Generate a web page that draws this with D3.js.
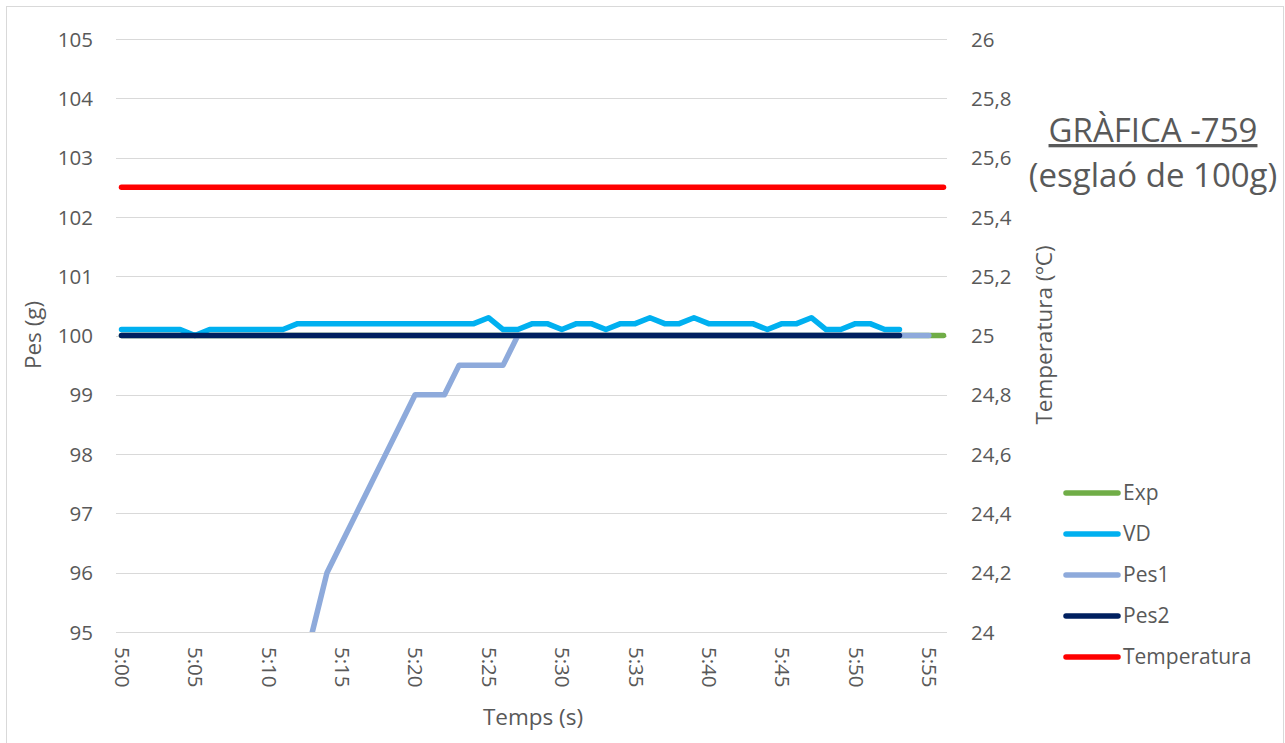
<!DOCTYPE html>
<html>
<head>
<meta charset="utf-8">
<script src="https://cdn.jsdelivr.net/npm/d3@7"></script>
<style>
  html, body { margin: 0; padding: 0; background: #fff; }
  svg { display: block; font-family: "Open Sans", sans-serif; }
</style>
</head>
<body>
<svg id="chart" width="1285" height="743"></svg>
<script>
// Time categories, one per second
const times = d3.range(0, 57).map(s => "5:" + String(s).padStart(2, "0"));
const tickLabels = ["5:00","5:05","5:10","5:15","5:20","5:25","5:30","5:35","5:40","5:45","5:50","5:55"];

// Weight series (g)
const exp = d3.range(0, 57).map(() => 100);
const vd = [100.1,100.1,100.1,100.1,100.1,100.0,100.1,100.1,100.1,100.1,
            100.1,100.1,100.2,100.2,100.2,100.2,100.2,100.2,100.2,100.2,
            100.2,100.2,100.2,100.2,100.2,100.3,100.1,100.1,100.2,100.2,
            100.1,100.2,100.2,100.1,100.2,100.2,100.3,100.2,100.2,100.3,
            100.2,100.2,100.2,100.2,100.1,100.2,100.2,100.3,100.1,100.1,
            100.2,100.2,100.1,100.1];
const pes1 = [null,null,null,null,null,null,null,null,null,null,
              null,null,null,95,96,96.5,97,97.5,98,98.5,
              99,99,99,99.5,99.5,99.5,99.5,100,100,100,
              100,100,100,100,100,100,100,100,100,100,
              100,100,100,100,100,100,100,100,100,100,
              100,100,100,100,100,100];
const pes2 = d3.range(0, 54).map(() => 100);
// Temperature series (ºC, secondary axis)
const temperatura = d3.range(0, 57).map(() => 25.5);

const leftTicks = [95,96,97,98,99,100,101,102,103,104,105];
const rightTicks = [24,24.2,24.4,24.6,24.8,25,25.2,25.4,25.6,25.8,26];

const svg = d3.select("#chart");
const textColor = "#595959";
const gridColor = "#d9d9d9";

// Chart border
svg.append("rect")
  .attr("x", 6.5).attr("y", 6.5).attr("width", 1277).attr("height", 760)
  .attr("fill", "#fff").attr("stroke", gridColor).attr("stroke-width", 1);

const plot = { left: 116, right: 947, top: 39, bottom: 632 };

const x = d3.scaleLinear().domain([0, 56]).range([121.5, 943.5]);
const y = d3.scaleLinear().domain([95, 105]).range([plot.bottom, plot.top]);
const y2 = d3.scaleLinear().domain([24, 26]).range([plot.bottom, plot.top]);

// Horizontal gridlines
svg.append("g").selectAll("line").data(leftTicks).join("line")
  .attr("x1", plot.left).attr("x2", plot.right)
  .attr("y1", d => Math.round(y(d)) + 0.5).attr("y2", d => Math.round(y(d)) + 0.5)
  .attr("stroke", gridColor).attr("stroke-width", 1.2);

// Left axis labels
const fmt = d => String(d).replace(".", ",");
const leftAxis = d3.axisLeft(y).tickValues(leftTicks).tickSize(0).tickPadding(0).tickFormat(d => d);
const gl = svg.append("g").attr("transform", `translate(93,0)`).call(leftAxis);
gl.select(".domain").remove();
gl.selectAll("text").attr("font-size", 20.5).attr("fill", textColor)
  .attr("font-family", "Open Sans").attr("dy", "0.35em");

// Right axis labels
const rightAxis = d3.axisRight(y2).tickValues(rightTicks).tickSize(0).tickPadding(0).tickFormat(fmt);
const gr = svg.append("g").attr("transform", `translate(971,0)`).call(rightAxis);
gr.select(".domain").remove();
gr.selectAll("text").attr("font-size", 20.5).attr("fill", textColor)
  .attr("font-family", "Open Sans").attr("dy", "0.35em");

// Bottom axis labels, rotated
const xTickIdx = tickLabels.map(t => times.indexOf(t));
const bottomAxis = d3.axisBottom(x).tickValues(xTickIdx).tickSize(0).tickFormat(i => times[i]);
const gb = svg.append("g").attr("transform", `translate(0,${plot.bottom})`).call(bottomAxis);
gb.select(".domain").remove();
gb.selectAll("text")
  .attr("font-size", 20.5).attr("fill", textColor).attr("font-family", "Open Sans")
  .attr("text-anchor", "start")
  .attr("transform", "rotate(90)")
  .attr("x", 15).attr("y", 0).attr("dy", "0.35em");

// Axis titles
svg.append("text").attr("x", 533).attr("y", 725).attr("text-anchor", "middle")
  .attr("font-size", 22.5).attr("fill", textColor).text("Temps (s)");
svg.append("text").attr("transform", "translate(41,335) rotate(-90)").attr("text-anchor", "middle")
  .attr("font-size", 22.5).attr("fill", textColor).text("Pes (g)");
svg.append("text").attr("transform", "translate(1052,335) rotate(-90)").attr("text-anchor", "middle")
  .attr("font-size", 22.5).attr("fill", textColor).text("Temperatura (ºC)");

// Title
svg.append("text").attr("x", 1153).attr("y", 142).attr("text-anchor", "middle")
  .attr("font-size", 33).attr("fill", textColor).attr("text-decoration", "underline")
  .text("GRÀFICA -759");
svg.append("text").attr("x", 1153).attr("y", 187).attr("text-anchor", "middle")
  .attr("font-size", 33).attr("fill", textColor).text("(esglaó de 100g)");

// Series lines
svg.append("clipPath").attr("id", "plotclip").append("rect")
  .attr("x", 0).attr("y", plot.top - 10).attr("width", 1285).attr("height", plot.bottom - plot.top + 10);

const series = [
  { name: "Exp", values: exp, scale: y, color: "#70ad47" },
  { name: "VD", values: vd, scale: y, color: "#00b0f0" },
  { name: "Pes1", values: pes1, scale: y, color: "#8eaadb" },
  { name: "Pes2", values: pes2, scale: y, color: "#002060" },
  { name: "Temperatura", values: temperatura, scale: y2, color: "#ff0000" }
];

const lines = svg.append("g").attr("clip-path", "url(#plotclip)");
series.forEach(s => {
  const line = d3.line()
    .defined(d => d != null)
    .x((d, i) => x(i))
    .y(d => s.scale(d));
  lines.append("path")
    .datum(s.values)
    .attr("d", line)
    .attr("fill", "none")
    .attr("stroke", s.color)
    .attr("stroke-width", 5.5)
    .attr("stroke-linejoin", "round")
    .attr("stroke-linecap", "round");
});

// Legend
const legend = svg.append("g");
series.forEach((s, i) => {
  const ly = 493 + i * 41;
  legend.append("line")
    .attr("x1", 1066).attr("x2", 1118).attr("y1", ly).attr("y2", ly)
    .attr("stroke", s.color).attr("stroke-width", 5.5).attr("stroke-linecap", "round");
  legend.append("text")
    .attr("x", 1123).attr("y", ly).attr("dy", "0.35em")
    .attr("font-size", 21).attr("fill", textColor).text(s.name);
});
</script>
</body>
</html>
